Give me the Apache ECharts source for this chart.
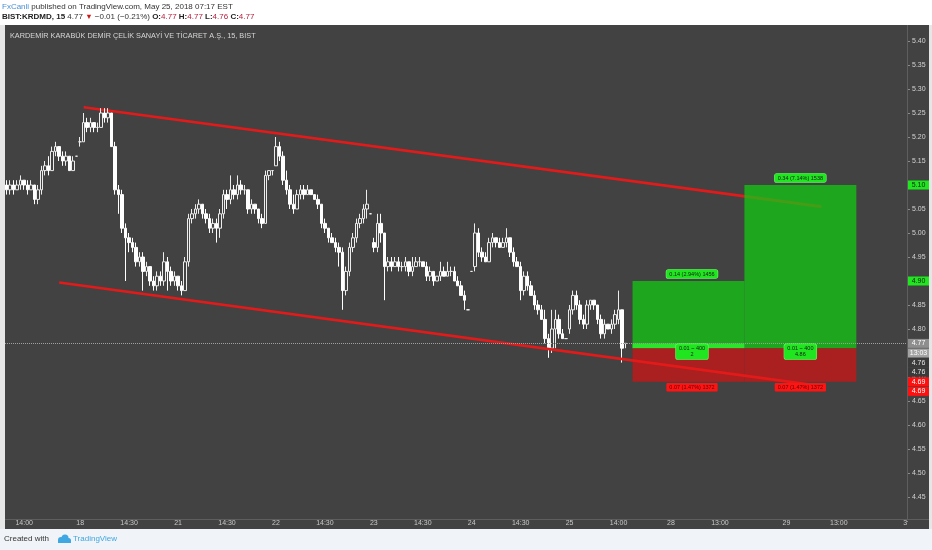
<!DOCTYPE html>
<html lang="en">
<head>
<meta charset="UTF-8">
<title>BIST:KRDMD, 15</title>
<script src="https://cdn.jsdelivr.net/npm/echarts@6.0.0/dist/echarts.min.js"></script>
<style>
    html, body { margin: 0; padding: 0; background: #fff; }
    #main { width: 932px; height: 550px; }
</style>
</head>
<body>
<div id="main"></div>
<script type="text/javascript">
    // 15 dk mumlar: [acilis, kapanis, dusuk, yuksek]
    var day17 = [
        [5.10,5.09,5.08,5.11],[5.09,5.10,5.08,5.11],[5.10,5.09,5.08,5.11],[5.09,5.10,5.09,5.11],
        [5.10,5.11,5.09,5.12],[5.11,5.10,5.09,5.11],[5.10,5.09,5.08,5.11],[5.09,5.10,5.09,5.11],
        [5.10,5.07,5.06,5.10],[5.07,5.09,5.06,5.10],[5.09,5.13,5.08,5.14],[5.13,5.14,5.12,5.15],
        [5.14,5.13,5.12,5.16],[5.13,5.17,5.13,5.18],[5.17,5.18,5.16,5.19],[5.18,5.16,5.15,5.18],
        [5.16,5.15,5.14,5.17],[5.15,5.16,5.14,5.17],[5.16,5.13,5.13,5.16],[5.13,5.15,5.13,5.16],
        [5.16,5.16,5.16,5.16]
    ];
    var day18 = [
        [5.19,5.19,5.18,5.20],[5.19,5.23,5.19,5.25],[5.23,5.22,5.21,5.24],[5.22,5.23,5.21,5.24],
        [5.23,5.22,5.21,5.23],[5.22,5.22,5.21,5.23],[5.22,5.25,5.22,5.26],[5.25,5.24,5.23,5.26],
        [5.24,5.25,5.23,5.26],[5.25,5.18,5.18,5.25],[5.18,5.09,5.08,5.19],[5.09,5.08,5.04,5.10],
        [5.08,5.01,5.00,5.09],[5.01,4.99,4.90,5.02],[4.99,4.98,4.96,5.00],[4.98,4.97,4.96,4.99],
        [4.97,4.94,4.93,4.98],[4.94,4.95,4.93,4.96],[4.95,4.92,4.88,4.96],[4.92,4.93,4.91,4.94],
        [4.93,4.90,4.89,4.93],[4.90,4.89,4.88,4.91],[4.89,4.91,4.88,4.92],[4.91,4.90,4.89,4.92],
        [4.90,4.94,4.89,4.96],[4.94,4.92,4.88,4.95],[4.92,4.90,4.89,4.93],[4.90,4.91,4.89,4.92]
    ];
    var day21 = [
        [4.91,4.89,4.88,4.91],[4.89,4.88,4.87,4.90],[4.88,4.94,4.88,4.95],[4.94,5.03,4.93,5.04],
        [5.03,5.04,5.02,5.05],[5.04,5.05,5.03,5.06],[5.05,5.06,5.04,5.07],[5.06,5.04,5.03,5.06],
        [5.04,5.03,5.02,5.05],[5.03,5.01,5.00,5.04],[5.01,5.02,5.00,5.03],[5.02,5.01,4.98,5.03],
        [5.01,5.04,4.99,5.05],[5.04,5.08,5.03,5.09],[5.08,5.07,5.05,5.09],[5.07,5.09,5.06,5.12],
        [5.09,5.08,5.07,5.10],[5.08,5.10,5.07,5.12],[5.10,5.09,5.08,5.11],[5.09,5.09,5.08,5.10],
        [5.09,5.05,5.04,5.09],[5.05,5.06,5.04,5.07],[5.06,5.05,5.04,5.06],[5.05,5.03,5.02,5.05],
        [5.03,5.02,5.01,5.04],[5.02,5.12,5.02,5.13],[5.12,5.13,5.11,5.13],[5.13,5.13,5.12,5.13]
    ];
    var day22 = [
        [5.14,5.18,5.14,5.20],[5.18,5.16,5.15,5.19],[5.16,5.11,5.10,5.17],[5.11,5.09,5.08,5.13],
        [5.09,5.06,5.05,5.10],[5.06,5.05,5.04,5.08],[5.05,5.08,5.05,5.09],[5.08,5.09,5.07,5.10],
        [5.09,5.08,5.07,5.10],[5.08,5.09,5.08,5.10],[5.09,5.08,5.08,5.09],[5.08,5.07,5.07,5.08],
        [5.07,5.06,5.05,5.08],[5.06,5.02,5.01,5.06],[5.02,5.01,5.00,5.03],[5.01,4.99,4.98,5.01],
        [4.99,4.98,4.98,5.00],[4.98,4.97,4.96,4.99],[4.97,4.96,4.93,4.98],[4.96,4.88,4.84,4.97],
        [4.88,4.92,4.87,4.93],[4.92,4.97,4.91,4.98],[4.97,4.99,4.96,5.00],[4.99,5.02,4.98,5.03],
        [5.02,5.03,5.01,5.04],[5.03,5.05,5.02,5.06],[5.05,5.06,5.03,5.09],[5.04,5.04,5.04,5.04]
    ];
    var day23 = [
        [4.98,4.97,4.96,4.99],[4.97,5.02,4.96,5.04],[5.02,5.00,4.98,5.04],[5.00,4.93,4.86,5.00],
        [4.93,4.94,4.92,4.95],[4.94,4.93,4.92,4.95],[4.93,4.94,4.93,4.95],[4.94,4.93,4.92,4.95],
        [4.93,4.93,4.92,4.94],[4.93,4.94,4.92,4.95],[4.94,4.92,4.91,4.94],[4.92,4.93,4.91,4.95],
        [4.93,4.94,4.93,4.95],[4.94,4.94,4.93,4.95],[4.94,4.93,4.93,4.94],[4.93,4.91,4.90,4.94],
        [4.91,4.92,4.90,4.93],[4.92,4.90,4.89,4.92],[4.90,4.91,4.90,4.91],[4.91,4.92,4.90,4.94],
        [4.92,4.91,4.91,4.93],[4.91,4.92,4.91,4.94],[4.92,4.92,4.91,4.93],[4.92,4.90,4.90,4.93],
        [4.90,4.89,4.89,4.91],[4.89,4.87,4.87,4.90],[4.87,4.86,4.84,4.88],[4.84,4.84,4.84,4.84]
    ];
    var day24 = [
        [4.92,4.92,4.92,4.92],[4.93,5.00,4.92,5.02],[5.00,4.96,4.95,5.01],[4.96,4.95,4.94,4.97],
        [4.95,4.94,4.94,4.96],[4.94,4.98,4.94,4.99],[4.98,4.99,4.97,5.00],[4.99,4.98,4.97,4.99],
        [4.98,4.97,4.97,4.99],[4.97,4.98,4.97,4.99],[4.98,4.99,4.97,5.01],[4.99,4.96,4.95,4.99],
        [4.96,4.94,4.93,4.97],[4.94,4.93,4.93,4.95],[4.93,4.88,4.86,4.94],[4.88,4.91,4.87,4.92],
        [4.91,4.89,4.88,4.92],[4.89,4.87,4.87,4.90],[4.87,4.85,4.84,4.88],[4.85,4.84,4.83,4.86],
        [4.84,4.82,4.82,4.85],[4.82,4.78,4.77,4.84],[4.78,4.76,4.74,4.79],[4.76,4.80,4.75,4.84],
        [4.80,4.82,4.76,4.84],[4.82,4.79,4.78,4.83],[4.79,4.78,4.78,4.80],[4.78,4.78,4.78,4.78]
    ];
    var day25 = [
        [4.80,4.84,4.79,4.85],[4.84,4.87,4.83,4.88],[4.87,4.85,4.84,4.88],[4.85,4.82,4.81,4.86],
        [4.82,4.81,4.80,4.83],[4.81,4.85,4.80,4.86],[4.85,4.86,4.84,4.86],[4.86,4.85,4.84,4.86],
        [4.85,4.82,4.81,4.85],[4.82,4.79,4.78,4.83],[4.79,4.81,4.78,4.82],[4.81,4.80,4.80,4.81],
        [4.80,4.81,4.79,4.82],[4.81,4.83,4.80,4.84],[4.82,4.84,4.81,4.88],[4.84,4.76,4.73,4.84],
        [4.77,4.77,4.76,4.77]
    ];

    // zaman ekseni
    var slotCount = 258;
    var tickIdx = [5, 21, 35, 49, 63, 77, 91, 105, 119, 133, 147, 161, 175, 190, 204, 223, 238, 257];
    var tickText = ['14:00', '18', '14:30', '21', '14:30', '22', '14:30', '23', '14:30', '24', '14:30', '25',
                    '14:00', '28', '13:00', '29', '13:00', '3'];

    // kanal cizgileri [bar, fiyat]
    var upperLine = [[22, 5.262], [233, 5.055]];
    var lowerLine = [[15, 4.897], [233, 4.681]];

    // long pozisyonlar: [baslangic, bitis, giris, hedef, stop]
    var posLeft = [179, 211, 4.76, 4.90, 4.69];
    var posRight = [211, 243, 4.76, 5.10, 4.69];
    var lastPrice = 4.77;
    var labelSlots = [196, 227];
    var topTexts = ['0.14 (2.94%) 1456', '0.34 (7.14%) 1538'];
    var midTexts = ['0.01 ~ 400\n2', '0.01 ~ 400\n4.86'];
    var stopTexts = ['0.07 (1.47%) 1372', '0.07 (1.47%) 1372'];

    // fiyat ekseni etiketleri
    var tagPrices = [5.10, 4.90, 4.77, 4.77, 4.76, 4.76, 4.69, 4.69];
    var tagTexts = ['5.10', '4.90', '4.77', '13:03', '4.76', '4.76', '4.69', '4.69'];
    var tagKinds = ['target', 'target', 'last', 'timer', 'plain', 'plain', 'stop', 'stop'];

    var candles = [].concat(day17, day18, day21, day22, day23, day24, day25);
    var slots = [];
    for (var i = 0; i < slotCount; i++) slots.push(String(i));

    var FONT = "'Liberation Sans Narrow', 'Liberation Sans', Arial, sans-serif";
    var tagStyle = {
        target: {bg: '#1fe61f', fg: '#1a1a1a'},
        last: {bg: '#8e8e8e', fg: '#ffffff'},
        timer: {bg: '#a3a3a3', fg: '#ffffff'},
        plain: {bg: '#3a3a3a', fg: '#e6e6e6'},
        stop: {bg: '#ff1010', fg: '#ffffff'}
    };
    var greenLbl = {backgroundColor: '#1fe61f', borderColor: '#6df56d', borderWidth: 0.6, borderRadius: 2,
                    padding: [1, 3], color: '#1a1a1a', fontSize: 5.5, lineHeight: 6.5, fontFamily: FONT, align: 'center'};
    var redLbl = {backgroundColor: '#ff1414', borderRadius: 1, padding: [1, 3], color: '#5a0000',
                  fontSize: 5.5, lineHeight: 6.5, fontFamily: FONT, align: 'center'};

    function box(pos, y0, y1, color) {
        return [{xAxis: pos[0], yAxis: y0, itemStyle: {color: color}}, {xAxis: pos[1], yAxis: y1}];
    }
    function lbl(slot, price, text, style, dy) {
        return {coord: [slot, price], name: text,
                label: Object.assign({show: true, position: 'inside', offset: [0, dy], formatter: function (p) { return p.name; }}, style)};
    }

    var chart = echarts.init(document.getElementById('main'), null, {renderer: 'canvas'});

    var option = {
        animation: false,
        backgroundColor: '#424242',
        title: [
            {left: 2, top: 3, padding: 0, z: 110,
             text: '{a|FxCanli}{b| published on TradingView.com, May 25, 2018 07:17 EST}',
             textStyle: {fontWeight: 'normal', rich: {
                 a: {color: '#4a8fd8', fontSize: 8, fontWeight: 'normal', fontFamily: FONT},
                 b: {color: '#333333', fontSize: 8, fontWeight: 'normal', fontFamily: FONT}
             }}},
            {left: 2, top: 13, padding: 0, z: 110,
             text: '{k|BIST:KRDMD, 15 }{p|4.77 }{d|▼}{p| −0.01 (−0.21%) }{k|O:}{v|4.77}{k| H:}{v|4.77}{k| L:}{v|4.76}{k| C:}{v|4.77}',
             textStyle: {fontWeight: 'normal', rich: {
                 k: {color: '#222222', fontSize: 8, fontWeight: 'bold', fontFamily: FONT},
                 p: {color: '#333333', fontSize: 8, fontWeight: 'normal', fontFamily: FONT},
                 d: {color: '#cc1a1a', fontSize: 7.5, fontWeight: 'normal', fontFamily: FONT},
                 v: {color: '#b5203c', fontSize: 8, fontWeight: 'normal', fontFamily: FONT}
             }}},
            {left: 10, top: 32, padding: 0, z: 110,
             text: 'KARDEMİR KARABÜK DEMİR ÇELİK SANAYİ VE TİCARET A.Ş., 15, BIST',
             textStyle: {color: '#d6d6d6', fontSize: 7.3, fontWeight: 'normal', fontFamily: FONT}},
            {left: 4, top: 535, padding: 0, z: 110,
             text: 'Created with', textStyle: {color: '#333333', fontSize: 8, fontWeight: 'normal', fontFamily: FONT}},
            {left: 73, top: 535, padding: 0, z: 110,
             text: 'TradingView', textStyle: {color: '#3fa7e1', fontSize: 8, fontWeight: 'normal', fontFamily: FONT}}
        ],
        grid: {left: 5, right: 25, top: 17, bottom: 29, containLabel: false, outerBoundsMode: 'none'},
        xAxis: {
            type: 'category',
            data: slots,
            boundaryGap: true,
            axisLine: {show: false},
            axisTick: {show: false},
            splitLine: {show: false},
            axisLabel: {
                color: '#c8c8c8', fontSize: 7, fontFamily: FONT, margin: -1,
                interval: function (index) { return tickIdx.indexOf(index) >= 0; },
                formatter: function (value, index) {
                    var k = tickIdx.indexOf(index);
                    return k >= 0 ? tickText[k] : '';
                }
            }
        },
        yAxis: {
            type: 'value',
            position: 'right',
            min: 4.40, max: 5.45, interval: 0.05,
            scale: true,
            axisLine: {show: false},
            axisTick: {show: true, length: 3, lineStyle: {color: '#8a8a8a'}},
            splitLine: {show: false},
            axisLabel: {
                color: '#d2d2d2', fontSize: 7, fontFamily: FONT, margin: 5,
                formatter: function (v) { return (v < 4.42 || v > 5.43) ? '' : v.toFixed(2); }
            }
        },
        series: [
            {
                type: 'candlestick',
                name: 'KRDMD',
                data: candles,
                barWidth: 3,
                z: 2,
                itemStyle: {
                    color: '#424242', borderColor: '#ececec',
                    color0: '#ffffff', borderColor0: '#ffffff',
                    borderWidth: 1
                },
                markLine: {
                    silent: true, symbol: ['none', 'none'], label: {show: false},
                    lineStyle: {color: '#a0a0a0', type: 'dotted', width: 1},
                    data: [{yAxis: lastPrice}]
                }
            },
            {
                type: 'line', name: 'upper', data: upperLine, z: 2,
                symbol: 'none', silent: true,
                lineStyle: {color: '#e31a1a', width: 2.6}
            },
            {
                type: 'line', name: 'positions', data: [], z: 3, silent: true,
                markArea: {
                    silent: true, z: 3, label: {show: false},
                    data: [
                        box(posLeft, posLeft[3], posLeft[2], 'rgba(20,200,20,0.75)'),
                        box(posRight, posRight[3], posRight[2], 'rgba(20,200,20,0.75)'),
                        box(posLeft, lastPrice, posLeft[2], 'rgba(45,235,45,0.9)'),
                        box(posLeft, posLeft[2], posLeft[4], 'rgba(205,20,20,0.75)'),
                        box(posRight, posRight[2], posRight[4], 'rgba(205,20,20,0.75)')
                    ]
                }
            },
            {
                type: 'line', name: 'lower', data: lowerLine, z: 4,
                symbol: 'none', silent: true,
                lineStyle: {color: '#e31a1a', width: 2.6}
            },
            {
                type: 'line', name: 'labels', data: [], z: 6, silent: true,
                markPoint: {
                    silent: true, z: 6, symbol: 'rect', symbolSize: 1,
                    itemStyle: {color: 'rgba(0,0,0,0)'},
                    data: [
                        lbl(labelSlots[0], posLeft[3], topTexts[0], greenLbl, -7),
                        lbl(labelSlots[1], posRight[3], topTexts[1], greenLbl, -7),
                        lbl(labelSlots[0], posLeft[2], midTexts[0], greenLbl, 3.5),
                        lbl(labelSlots[1], posRight[2], midTexts[1], greenLbl, 3.5),
                        lbl(labelSlots[0], posLeft[4], stopTexts[0], redLbl, 5.5),
                        lbl(labelSlots[1], posRight[4], stopTexts[1], redLbl, 5.5)
                    ]
                }
            }
        ]
    };
    chart.setOption(option);

    // sabit zemin parcalari ve eksen etiketleri
    var els = [
        {type: 'rect', shape: {x: 0, y: 0, width: 932, height: 25}, style: {fill: '#ffffff'}, z: 100},
        {type: 'rect', shape: {x: 0, y: 529, width: 932, height: 21}, style: {fill: '#f0f3f8'}, z: 100},
        {type: 'rect', shape: {x: 0, y: 25, width: 5, height: 504}, style: {fill: '#e6e6e6'}, z: 100},
        {type: 'rect', shape: {x: 929, y: 25, width: 3, height: 504}, style: {fill: '#e6e6e6'}, z: 100},
        {type: 'rect', shape: {x: 908, y: 520, width: 21, height: 9}, style: {fill: '#424242'}, z: 100},
        {type: 'line', shape: {x1: 907.5, y1: 25, x2: 907.5, y2: 519}, style: {stroke: '#5e5e5e', lineWidth: 1}, z: 100},
        {type: 'line', shape: {x1: 5, y1: 519.5, x2: 929, y2: 519.5}, style: {stroke: '#5e5e5e', lineWidth: 1}, z: 100},
        {type: 'circle', shape: {cx: 61, cy: 540, r: 3}, style: {fill: '#3fa7e1'}, z: 101},
        {type: 'circle', shape: {cx: 65, cy: 538, r: 3.5}, style: {fill: '#3fa7e1'}, z: 101},
        {type: 'circle', shape: {cx: 68.5, cy: 540.5, r: 2.5}, style: {fill: '#3fa7e1'}, z: 101},
        {type: 'rect', shape: {x: 58, y: 540, width: 13, height: 3}, style: {fill: '#3fa7e1'}, z: 101}
    ];
    var prevY = -1000;
    tagPrices.forEach(function (p, k) {
        var y = chart.convertToPixel({yAxisIndex: 0}, p);
        if (y < prevY + 9.6) y = prevY + 9.6;
        prevY = y;
        var st = tagStyle[tagKinds[k]];
        els.push({type: 'rect', shape: {x: 908, y: y - 4.5, width: 21, height: 9}, style: {fill: st.bg}, z: 120});
        els.push({type: 'text', x: 918.5, y: y, z: 121,
                  style: {text: tagTexts[k], fill: st.fg, font: '7px ' + FONT, align: 'center', verticalAlign: 'middle'}});
    });
    chart.setOption({graphic: els});
</script>
</body>
</html>
